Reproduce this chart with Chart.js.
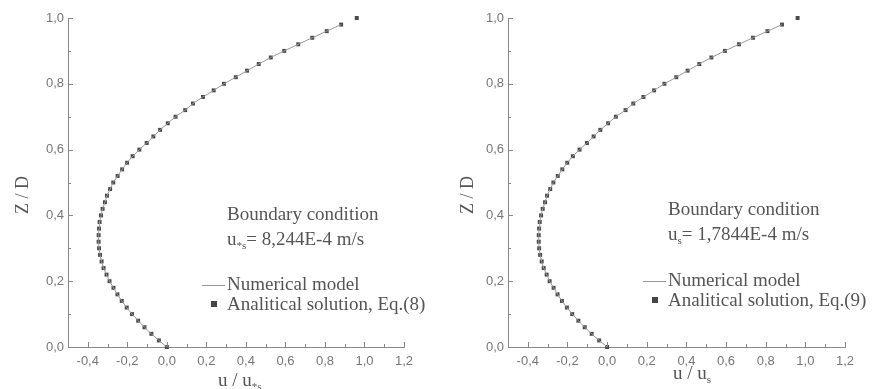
<!DOCTYPE html>
<html>
<head>
<meta charset="utf-8">
<script src="https://cdn.jsdelivr.net/npm/chart.js@4.4.1/dist/chart.umd.min.js"></script>
<style>
  body { margin: 0; background: #fff; }
  canvas { position: absolute; top: 0; }
</style>
</head>
<body>
<canvas id="chart-left" width="440" height="389" style="left:0"></canvas>
<canvas id="chart-right" width="433" height="389" style="left:440px"></canvas>
<script>
// Z/D levels of the profile (bottom to surface)
const zValues = [
  0.00, 0.02, 0.04, 0.06, 0.08, 0.10, 0.12, 0.14, 0.16, 0.18,
  0.20, 0.22, 0.24, 0.26, 0.28, 0.30, 0.32, 0.34, 0.36, 0.38,
  0.40, 0.42, 0.44, 0.46, 0.48, 0.50, 0.52, 0.54, 0.56, 0.58,
  0.60, 0.62, 0.64, 0.66, 0.68, 0.70, 0.72, 0.74, 0.76, 0.78,
  0.80, 0.82, 0.84, 0.86, 0.88, 0.90, 0.92, 0.94, 0.96, 0.98,
  1.00
];

// u/us, analytical solution (square markers)
const analyticU = [
  0.000, -0.040, -0.078, -0.113, -0.145, -0.176, -0.203, -0.228, -0.250, -0.270,
  -0.290, -0.305, -0.320, -0.330, -0.338, -0.343, -0.345, -0.345, -0.343, -0.340,
  -0.333, -0.325, -0.313, -0.303, -0.287, -0.271, -0.249, -0.226, -0.201, -0.173,
  -0.139, -0.102, -0.068, -0.034, 0.005, 0.044, 0.093, 0.132, 0.183, 0.237,
  0.289, 0.349, 0.406, 0.465, 0.526, 0.594, 0.665, 0.736, 0.809, 0.882,
  0.961
];

// u/us, numerical model (thin line, stops just below the surface)
const numericU = [
  0.000, -0.040, -0.078, -0.113, -0.145, -0.176, -0.203, -0.228, -0.250, -0.270,
  -0.290, -0.305, -0.320, -0.330, -0.338, -0.343, -0.345, -0.345, -0.343, -0.340,
  -0.333, -0.325, -0.313, -0.303, -0.287, -0.271, -0.249, -0.226, -0.201, -0.173,
  -0.139, -0.102, -0.068, -0.034, 0.005, 0.044, 0.093, 0.132, 0.183, 0.237,
  0.289, 0.349, 0.406, 0.465, 0.526, 0.594, 0.665, 0.736, 0.809, 0.882
];

const xTicks = [-0.4, -0.2, 0.0, 0.2, 0.4, 0.6, 0.8, 1.0, 1.2];
const xMinorTicks = [-0.5, -0.3, -0.1, 0.1, 0.3, 0.5, 0.7, 0.9, 1.1];
const yTicks = [0.0, 0.2, 0.4, 0.6, 0.8, 1.0];
const yMinorTicks = [0.1, 0.3, 0.5, 0.7, 0.9];

const TEXT = '#555';
const SERIF = '"Liberation Serif", "DejaVu Serif", serif';

function fmt(v) {
  return v.toFixed(1).replace('.', ',');
}

// u + subscript + rest, left aligned at x
function drawSubText(ctx, x, y, base, sub, rest, size) {
  ctx.font = size + 'px ' + SERIF;
  ctx.fillText(base, x, y);
  x += ctx.measureText(base).width;
  ctx.font = Math.round(size * 0.6) + 'px ' + SERIF;
  ctx.fillText(sub, x, y + size * 0.3);
  x += ctx.measureText(sub).width;
  ctx.font = size + 'px ' + SERIF;
  ctx.fillText(rest, x, y);
}

const decorPlugin = {
  id: 'decor',
  afterDraw(chart, args, o) {
    const { ctx, scales: { x, y } } = chart;
    const area = chart.chartArea;
    ctx.save();

    // inward tick marks
    ctx.strokeStyle = '#888';
    ctx.lineWidth = 1;
    ctx.beginPath();
    xTicks.concat(xMinorTicks).forEach(v => {
      const px = Math.round(x.getPixelForValue(v)) + 0.5;
      const len = xTicks.includes(v) ? 5 : 3;
      ctx.moveTo(px, area.bottom);
      ctx.lineTo(px, area.bottom - len);
    });
    yTicks.concat(yMinorTicks).forEach(v => {
      const py = Math.round(y.getPixelForValue(v)) + 0.5;
      const len = yTicks.includes(v) ? 5 : 3;
      ctx.moveTo(area.left, py);
      ctx.lineTo(area.left + len, py);
    });
    ctx.stroke();

    ctx.fillStyle = TEXT;
    ctx.textBaseline = 'middle';

    // y title
    ctx.save();
    ctx.translate(o.yTitleX, o.yTitleY);
    ctx.rotate(-Math.PI / 2);
    ctx.textAlign = 'center';
    ctx.font = '18px ' + SERIF;
    ctx.fillText('Z / D', 0, 0);
    ctx.restore();

    // x title
    ctx.textAlign = 'left';
    drawSubText(ctx, o.xTitleX, o.xTitleY, 'u / u', o.sub, '', 19);

    // boundary condition note
    ctx.font = '19px ' + SERIF;
    ctx.fillText('Boundary condition', o.noteX, o.noteY);
    drawSubText(ctx, o.noteX, o.noteY + 25, 'u', o.sub, '= ' + o.value, 19);

    // legend
    ctx.strokeStyle = '#999';
    ctx.beginPath();
    ctx.moveTo(o.noteX - 25, o.legY + 0.5);
    ctx.lineTo(o.noteX - 2, o.legY + 0.5);
    ctx.stroke();
    ctx.font = '19px ' + SERIF;
    ctx.fillText('Numerical model', o.noteX, o.legY);
    ctx.fillStyle = '#444';
    ctx.fillRect(o.noteX - 16, o.legY + 16, 6, 6);
    ctx.fillStyle = TEXT;
    ctx.fillText('Analitical solution, Eq.(' + o.eq + ')', o.noteX, o.legY + 20);

    ctx.restore();
  }
};

function makeChart(id, padRight, decor) {
  const points = zValues.map((z, i) => ({ x: analyticU[i], y: z }));
  const line = numericU.map((u, i) => ({ x: u, y: zValues[i] }));
  return new Chart(document.getElementById(id), {
    type: 'scatter',
    data: {
      datasets: [
        {
          label: 'Numerical model',
          data: line,
          showLine: true,
          borderColor: '#999',
          borderWidth: 1,
          pointRadius: 0,
          clip: false
        },
        {
          label: 'Analitical solution',
          data: points,
          pointStyle: 'rect',
          pointRadius: 2.8,
          backgroundColor: '#4a4a4a',
          borderColor: '#4a4a4a',
          borderWidth: 0,
          clip: false
        }
      ]
    },
    options: {
      responsive: false,
      animation: false,
      devicePixelRatio: 1,
      layout: { padding: { left: 0, top: 18, right: padRight, bottom: 0 } },
      plugins: {
        legend: { display: false },
        tooltip: { enabled: false },
        decor
      },
      scales: {
        x: {
          type: 'linear',
          min: -0.5,
          max: 1.2,
          afterBuildTicks: s => { s.ticks = xTicks.map(v => ({ value: v })); },
          afterFit: s => { s.height = 42; },
          grid: { display: false, drawTicks: false },
          border: { display: true, color: '#888', width: 1 },
          ticks: {
            padding: 7,
            color: '#777',
            font: { family: 'Liberation Sans, Arial, sans-serif', size: 13 },
            callback: v => fmt(v)
          }
        },
        y: {
          type: 'linear',
          min: 0,
          max: 1.0,
          afterBuildTicks: s => { s.ticks = yTicks.map(v => ({ value: v })); },
          afterFit: s => { s.width = 68; },
          grid: { display: false, drawTicks: false },
          border: { display: true, color: '#888', width: 1 },
          ticks: {
            padding: 4,
            color: '#777',
            font: { family: 'Liberation Sans, Arial, sans-serif', size: 13 },
            callback: v => fmt(v)
          }
        }
      }
    },
    plugins: [decorPlugin]
  });
}

makeChart('chart-left', 36, {
  yTitleX: 23, yTitleY: 195,
  xTitleX: 218, xTitleY: 381,
  sub: '*s', value: '8,244E-4 m/s',
  noteX: 227, noteY: 215, legY: 285, eq: '8'
});

makeChart('chart-right', 28, {
  yTitleX: 28, yTitleY: 195,
  xTitleX: 233, xTitleY: 374,
  sub: 's', value: '1,7844E-4 m/s',
  noteX: 228, noteY: 210, legY: 281, eq: '9'
});
</script>
</body>
</html>
